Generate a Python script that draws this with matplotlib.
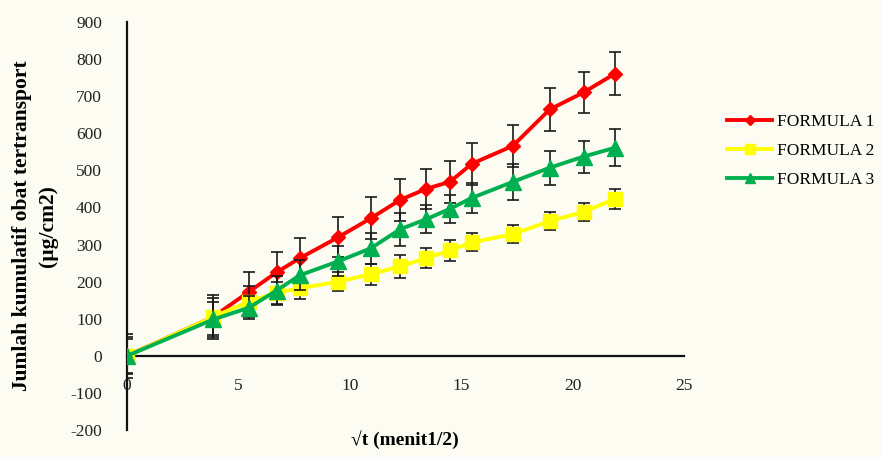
import numpy as np
import matplotlib
matplotlib.use('Agg')
import matplotlib.pyplot as plt
from matplotlib.lines import Line2D

# sqrt(t) sampling points (menit^1/2)
sqrt_t = [0, 3.87, 5.48, 6.71, 7.75, 9.49, 10.95, 12.25, 13.42, 14.49, 15.49, 17.32, 18.97, 20.49, 21.91]

f1 = [0, 105, 173, 225, 263, 320, 371, 420, 450, 469, 518, 566, 664, 710, 761]
f1_err = [60, 60, 52, 54, 54, 54, 57, 57, 54, 57, 57, 57, 57, 55, 57]

f2 = [0, 105, 146, 170, 182, 200, 220, 241, 263, 284, 306, 328, 363, 388, 423]
f2_err = [50, 50, 41, 30, 28, 26, 28, 30, 27, 28, 24, 25, 25, 24, 27]

f3 = [0, 98, 130, 176, 217, 255, 290, 341, 368, 396, 426, 469, 507, 537, 561]
f3_err = [45, 47, 30, 38, 40, 40, 42, 45, 38, 38, 40, 48, 46, 43, 50]

labels = ['FORMULA 1', 'FORMULA 2', 'FORMULA 3']
colors = ['#ff0000', '#ffff00', '#00b050']
markers = ['D', 's', '^']
msizes = [7.5, 10, 11]

plt.rcParams['font.family'] = ['Liberation Serif', 'DejaVu Serif']
plt.rcParams['axes.unicode_minus'] = False

bg = '#fcfcf3'
fig = plt.figure(figsize=(8.82, 4.57), dpi=100, facecolor=bg)
ax = fig.add_axes([0.144, 0.059, 0.6315, 0.893])
ax.set_facecolor(bg)

series = [(f1, f1_err), (f2, f2_err), (f3, f3_err)]
for i, (y, e) in enumerate(series):
    ax.errorbar(sqrt_t, y, yerr=e, color=colors[i], lw=2.8, marker=markers[i],
                ms=msizes[i], mec=colors[i], ecolor='#1a1a1a', elinewidth=1.2,
                capsize=4, capthick=1.2, zorder=2 + i)

ax.set_xlim(0, 25)
ax.set_ylim(-200, 900)
ax.set_xticks([0, 5, 10, 15, 20, 25])
ax.set_yticks(np.arange(-200, 901, 100))
ax.tick_params(length=0, labelsize=12.5, colors='#222222')
ax.tick_params(axis='x', pad=16)
ax.tick_params(axis='y', pad=18)

ax.spines['bottom'].set_position(('data', 0))
ax.spines['top'].set_visible(False)
ax.spines['right'].set_visible(False)
for s in ('left', 'bottom'):
    ax.spines[s].set_linewidth(1.6)
    ax.spines[s].set_color('#111111')

fig.text(405 / 882, 1 - 440 / 457, '\u221at (menit1/2)', ha='center', va='center',
         fontsize=14, fontweight='bold')
fig.text(35 / 882, 1 - 226 / 457, 'Jumlah kumulatif obat tertransport\n(\u00b5g/cm2)',
         ha='center', va='center', ma='center', rotation=90, fontsize=15.5,
         fontweight='bold', linespacing=1.35)

handles = [Line2D([], [], color=colors[i], lw=2.8, marker=markers[i],
                  ms=msizes[i] * 0.65, mec=colors[i]) for i in range(3)]
fig.legend(handles, labels, loc='center left', bbox_to_anchor=(727 / 882, 1 - 151 / 457),
           frameon=False, fontsize=12.5, handlelength=2.6, handletextpad=0.3,
           labelspacing=0.75, borderpad=0, borderaxespad=0)

fig.savefig('out.png', dpi=100, facecolor=bg)
